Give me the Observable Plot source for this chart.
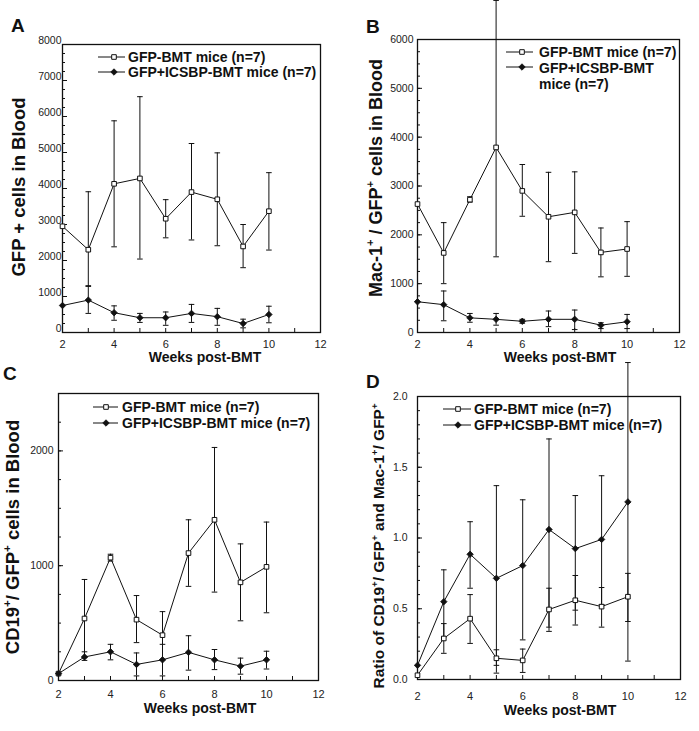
<!DOCTYPE html>
<html><head><meta charset="utf-8">
<script src="https://cdn.jsdelivr.net/npm/d3@7"></script>
<script src="https://cdn.jsdelivr.net/npm/@observablehq/plot@0.6"></script>
<style>
body{margin:0;background:#fff;}
#wrap{position:relative;width:699px;height:731px;overflow:hidden;background:#fff;font-family:"Liberation Sans",Arial,sans-serif;}
#wrap svg{position:absolute;overflow:visible;background:none;}
</style></head><body><div id="wrap"></div>
<script>
const weeks = [2, 3, 4, 5, 6, 7, 8, 9, 10];
const seriesNames = ["GFP-BMT mice (n=7)", "GFP+ICSBP-BMT mice (n=7)"];
const xTickLabels = [2, 4, 6, 8, 10, 12];
const xTickAll = [2, 3, 4, 5, 6, 7, 8, 9, 10, 11, 12];

// Panel A: GFP+ cells in blood
const aCtrlMean = [2950, 2300, 4130, 4280, 3160, 3900, 3700, 2390, 3370];
const aCtrlHi   = [null, 3910, 5880, 6550, 3690, 5250, 4990, 3000, 4440];
const aCtrlLo   = [null, 1280, 2380, 2040, 2630, 2570, 2410, 1800, 2290];
const aIcsMean  = [750, 900, 550, 410, 410, 530, 440, 250, 500];
const aIcsHi    = [null, 1300, 740, 530, 570, 780, 670, 370, 730];
const aIcsLo    = [null, 530, 340, 280, 200, 280, 200, 130, 270];
const aYTicks = [0, 1000, 2000, 3000, 4000, 5000, 6000, 7000, 8000];

// Panel B: Mac-1+/GFP+ cells in blood
const bCtrlMean = [2630, 1630, 2720, 3790, 2900, 2370, 2460, 1640, 1710];
const bCtrlHi   = [null, 2250, 2780, 6800, 3440, 3280, 3290, 2140, 2270];
const bCtrlLo   = [null, 1000, 2670, 1550, 2380, 1450, 1620, 1140, 1150];
const bIcsMean  = [630, 570, 300, 270, 230, 270, 270, 150, 220];
const bIcsHi    = [null, 850, 390, 390, 270, 440, 460, 200, 370];
const bIcsLo    = [null, 240, 210, 150, 190, 120, 60, 80, 80];
const bYTicks = [0, 1000, 2000, 3000, 4000, 5000, 6000];

// Panel C: CD19+/GFP+ cells in blood
const cCtrlMean = [60, 540, 1070, 530, 395, 1110, 1400, 855, 990];
const cCtrlHi   = [null, 880, 1100, 740, 600, 1400, 2030, 1190, 1380];
const cCtrlLo   = [null, 200, 1040, 330, 180, 820, 770, 520, 590];
const cIcsMean  = [60, 205, 250, 140, 180, 245, 180, 125, 180];
const cIcsHi    = [null, 250, 315, 240, 315, 390, 270, 195, 255];
const cIcsLo    = [null, 175, 180, 40, 40, 90, 95, 55, 100];
const cYTicks = [0, 1000, 2000];

// Panel D: ratio
const dCtrlMean = [0.03, 0.29, 0.43, 0.15, 0.135, 0.495, 0.56, 0.515, 0.585];
const dCtrlHi   = [null, 0.395, 0.60, 0.21, 0.215, 0.645, 0.735, 0.65, 0.75];
const dCtrlLo   = [null, 0.185, 0.255, 0.10, 0.05, 0.34, 0.385, 0.37, 0.41];
const dIcsMean  = [0.10, 0.55, 0.885, 0.715, 0.805, 1.06, 0.925, 0.99, 1.255];
const dIcsHi    = [null, 0.775, 1.115, 1.37, 1.27, 1.70, 1.30, 1.44, 2.24];
const dIcsLo    = [null, 0.30, 0.645, 0.045, 0.28, 0.37, 0.49, 0.53, 0.13];
const dYTicks = [0, 0.5, 1.0, 1.5, 2.0];

const INK = "#111";
const FONT = "Liberation Sans, Arial, sans-serif";
const capSymbol = {draw(ctx, size) { const r = Math.sqrt(size / Math.PI); ctx.moveTo(-r, 0); ctx.lineTo(r, 0); }};

function rowsOf(mean, hi, lo, s) {
  return weeks.map((w, i) => ({week: w, series: s, mean: mean[i], hi: hi[i], lo: lo[i]}));
}

function range(a, b, step) { const out = []; for (let v = a; v <= b + 1e-9; v += step) out.push(+v.toFixed(4)); return out; }

function makePanel(cfg) {
  const ctrl = rowsOf(cfg.ctrl[0], cfg.ctrl[1], cfg.ctrl[2], 0);
  const ics = rowsOf(cfg.ics[0], cfg.ics[1], cfg.ics[2], 1);
  const all = ctrl.concat(ics);
  const errs = all.filter(d => d.hi != null);
  const innerW = cfg.width - cfg.ml - cfg.mr;
  const innerH = cfg.height - cfg.mt - cfg.mb;
  const svg = Plot.plot({
    width: cfg.width, height: cfg.height,
    marginLeft: cfg.ml, marginRight: cfg.mr, marginTop: cfg.mt, marginBottom: cfg.mb,
    style: {fontFamily: FONT, background: "none", overflow: "visible"},
    x: {domain: [2, 12]},
    y: {domain: cfg.yDomain},
    marks: [
      Plot.frame({stroke: INK, strokeWidth: 1.3}),
      Plot.tickX(xTickAll, {x: d => d, insetTop: innerH - 4, stroke: INK}),
      Plot.tickY(cfg.minor, {y: d => d, insetRight: innerW - 3, stroke: INK}),
      Plot.tickY(cfg.yTicks, {y: d => d, insetRight: innerW - 5, stroke: INK}),
      Plot.axisX(xTickLabels, {tickSize: 0, tickPadding: cfg.xPad, fontSize: 11, color: "#222", label: null, tickFormat: d => String(d)}),
      Plot.axisY(cfg.yTicks, {tickSize: 0, tickPadding: cfg.yPad, fontSize: 10.5, color: "#222", label: null, dy: cfg.yDy, tickFormat: cfg.fmt}),
      Plot.ruleX(errs, {x: "week", y1: "lo", y2: "hi", stroke: INK, strokeWidth: 1}),
      Plot.dot(errs, {x: "week", y: "hi", symbol: capSymbol, r: 2.8, stroke: INK, fill: "none", strokeWidth: 1}),
      Plot.dot(errs, {x: "week", y: "lo", symbol: capSymbol, r: 2.8, stroke: INK, fill: "none", strokeWidth: 1}),
      Plot.line(all, {x: "week", y: "mean", z: "series", stroke: INK, strokeWidth: 1}),
      Plot.dot(ctrl, {x: "week", y: "mean", symbol: "square", r: 2.6, fill: "white", stroke: INK, strokeWidth: 1}),
      Plot.dot(ics, {x: "week", y: "mean", symbol: "diamond2", r: 2.9, fill: INK, stroke: INK, strokeWidth: 0.8})
    ]
  });
  svg.style.left = cfg.left + "px";
  svg.style.top = cfg.top + "px";
  const s = d3.select(svg);
  // panel letter
  s.append("text").attr("x", cfg.letter[1]).attr("y", cfg.letter[2]).attr("font-size", 19).attr("font-weight", "bold")
    .attr("text-anchor", "start").attr("fill", INK).attr("font-family", FONT).text(cfg.letter[0]);
  // x title
  s.append("text").attr("x", cfg.xTitle[0]).attr("y", cfg.xTitle[1]).attr("text-anchor", "middle").attr("font-size", 14)
    .attr("font-weight", "bold").attr("fill", INK).attr("font-family", FONT).text("Weeks post-BMT");
  // y title with superscripts
  const t = s.append("text").attr("transform", `translate(${cfg.yTitle.x},${cfg.yTitle.y}) rotate(-90)`)
    .attr("text-anchor", "middle").attr("font-size", cfg.yTitle.size).attr("font-weight", "bold").attr("fill", INK)
    .attr("font-family", FONT);
  let raised = false;
  cfg.yTitle.parts.forEach(([str, sup]) => {
    const ts = t.append("tspan").text(str);
    if (sup) { ts.attr("font-size", cfg.yTitle.size * 0.62).attr("dy", -cfg.yTitle.size * 0.42); raised = true; }
    else if (raised) { ts.attr("dy", cfg.yTitle.size * 0.42); raised = false; }
  });
  // legend
  const L = cfg.legend;
  L.rows.forEach((row) => {
    const g = s.append("g");
    if (row.line != null) {
      g.append("line").attr("x1", L.x0).attr("x2", L.x1).attr("y1", row.line).attr("y2", row.line).attr("stroke", INK).attr("stroke-width", 1);
      if (row.type === 0) {
        g.append("path").attr("d", d3.symbol(d3.symbolSquare, 2.6 * 2.6 * Math.PI)()).attr("transform", `translate(${L.xm},${row.line})`)
          .attr("fill", "white").attr("stroke", INK);
      } else {
        g.append("path").attr("d", d3.symbol(d3.symbolDiamond2, 2.9 * 2.9 * Math.PI)()).attr("transform", `translate(${L.xm},${row.line})`)
          .attr("fill", INK).attr("stroke", INK).attr("stroke-width", 0.8);
      }
    }
    g.append("text").attr("x", L.tx).attr("y", row.base).attr("font-size", 14).attr("font-weight", "bold").attr("fill", INK)
      .attr("text-anchor", "start").attr("font-family", FONT).text(row.text);
  });
  document.getElementById("wrap").appendChild(svg);
}

makePanel({
  left: 0, top: 0, width: 349, height: 365, ml: 62, mr: 29, mt: 44, mb: 33,
  yDomain: [0, 8000], yTicks: aYTicks, minor: range(0, 8000, 250), xPad: 8, yPad: 1, yDy: -4, fmt: d => String(d),
  ctrl: [aCtrlMean, aCtrlHi, aCtrlLo], ics: [aIcsMean, aIcsHi, aIcsLo],
  letter: ["A", 11, 32], xTitle: [205, 362],
  yTitle: {x: 25, y: 187, size: 18.5, parts: [["GFP + cells in Blood", false]]},
  legend: {x0: 98, x1: 125, xm: 114, tx: 128, rows: [
    {line: 57, base: 62, type: 0, text: seriesNames[0]},
    {line: 72, base: 77, type: 1, text: seriesNames[1]}]}
});

makePanel({
  left: 349, top: 0, width: 350, height: 365, ml: 68, mr: 20, mt: 39, mb: 33,
  yDomain: [0, 6000], yTicks: bYTicks, minor: range(0, 6000, 250), xPad: 8, yPad: 4, yDy: 0, fmt: d => String(d),
  ctrl: [bCtrlMean, bCtrlHi, bCtrlLo], ics: [bIcsMean, bIcsHi, bIcsLo],
  letter: ["B", 17, 33], xTitle: [211, 362],
  yTitle: {x: 33, y: 178, size: 18, parts: [["Mac-1", false], ["+", true], [" / GFP", false], ["+", true], [" cells in Blood", false]]},
  legend: {x0: 157, x1: 184, xm: 173, tx: 190, rows: [
    {line: 52, base: 57, type: 0, text: seriesNames[0]},
    {line: 67, base: 73, type: 1, text: "GFP+ICSBP-BMT"},
    {line: null, base: 89, type: 1, text: "mice (n=7)"}]}
});

makePanel({
  left: 0, top: 365, width: 349, height: 366, ml: 58, mr: 31, mt: 28, mb: 51,
  yDomain: [0, 2500], yTicks: cYTicks, minor: range(0, 2500, 250), xPad: 10, yPad: 5, yDy: 0, fmt: d => String(d),
  ctrl: [cCtrlMean, cCtrlHi, cCtrlLo], ics: [cIcsMean, cIcsHi, cIcsLo],
  letter: ["C", 3, 15], xTitle: [200, 348],
  yTitle: {x: 19, y: 172, size: 18.5, parts: [["CD19", false], ["+", true], ["/ GFP", false], ["+", true], [" cells in Blood", false]]},
  legend: {x0: 93, x1: 118, xm: 106, tx: 122, rows: [
    {line: 42, base: 47, type: 0, text: seriesNames[0]},
    {line: 58, base: 63, type: 1, text: seriesNames[1]}]}
});

makePanel({
  left: 349, top: 365, width: 350, height: 366, ml: 68, mr: 19, mt: 31, mb: 52,
  yDomain: [0, 2], yTicks: dYTicks, minor: range(0, 2, 0.1), xPad: 13, yPad: 10, yDy: 0, fmt: d => d.toFixed(1),
  ctrl: [dCtrlMean, dCtrlHi, dCtrlLo], ics: [dIcsMean, dIcsHi, dIcsLo],
  letter: ["D", 17, 23], xTitle: [211, 350],
  yTitle: {x: 35, y: 181, size: 15.5, parts: [["Ratio of CD19", false], ["+", true], ["/ GFP", false], ["+", true], [" and Mac-1", false], ["+", true], ["/ GFP", false], ["+", true]]},
  legend: {x0: 94, x1: 122, xm: 109, tx: 125, rows: [
    {line: 44, base: 49, type: 0, text: seriesNames[0]},
    {line: 60, base: 65, type: 1, text: seriesNames[1]}]}
});
</script>
</body></html>
